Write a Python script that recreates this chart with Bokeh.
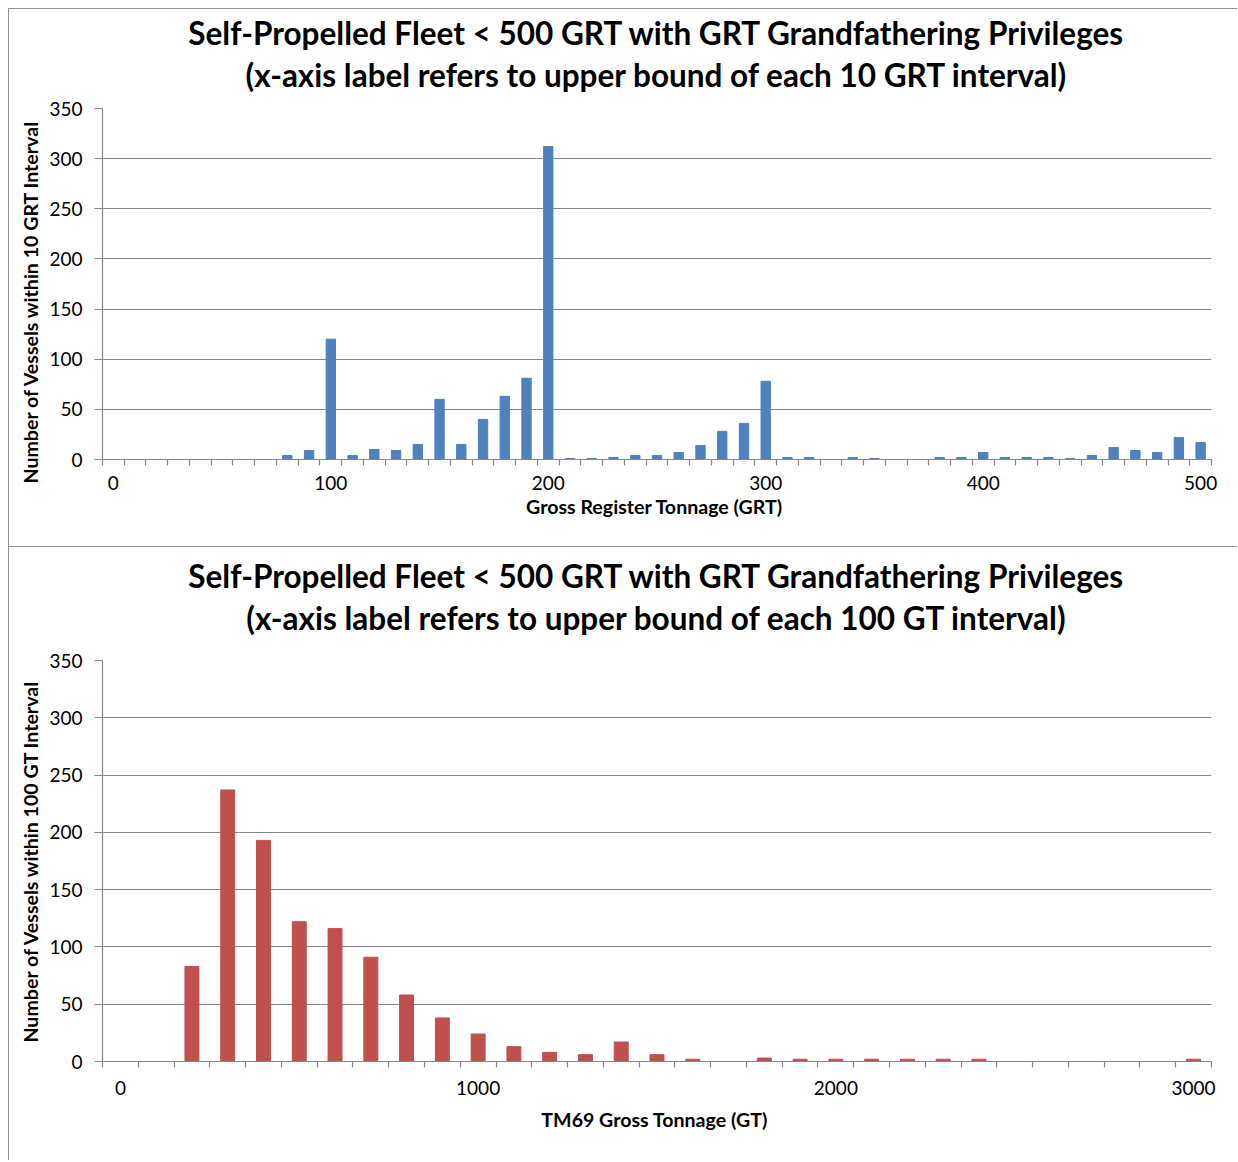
from bokeh.plotting import figure
from bokeh.models import Title, FixedTicker
from bokeh.layouts import column
from bokeh.embed import file_html
from bokeh.resources import INLINE

# ---------------- data ----------------
grt_bins = [0, 10, 20, 30, 40, 50, 60, 70, 80, 90,
            100, 110, 120, 130, 140, 150, 160, 170, 180, 190,
            200, 210, 220, 230, 240, 250, 260, 270, 280, 290,
            300, 310, 320, 330, 340, 350, 360, 370, 380, 390,
            400, 410, 420, 430, 440, 450, 460, 470, 480, 490, 500]
grt_counts = [0, 0, 0, 0, 0, 0, 0, 0, 4, 9,
              120, 4, 10, 9, 15, 60, 15, 40, 63, 81,
              312, 1, 1, 2, 4, 4, 7, 14, 28, 36,
              78, 2, 2, 0, 2, 1, 0, 0, 2, 2,
              7, 2, 2, 2, 1, 4, 12, 9, 7, 22, 17]
grt_tick_labels = [0, 100, 200, 300, 400, 500]

gt_bins = [0, 100, 200, 300, 400, 500, 600, 700, 800, 900,
           1000, 1100, 1200, 1300, 1400, 1500, 1600, 1700, 1800, 1900,
           2000, 2100, 2200, 2300, 2400, 2500, 2600, 2700, 2800, 2900, 3000]
gt_counts = [0, 0, 83, 237, 193, 122, 116, 91, 58, 38,
             24, 13, 8, 6, 17, 6, 2, 0, 3, 2,
             2, 2, 2, 2, 2, 0, 0, 0, 0, 0, 2]
gt_tick_labels = [0, 1000, 2000, 3000]

y_ticks = [0, 50, 100, 150, 200, 250, 300, 350]

FONT = "Lato"
GRAY = "#868686"
BORDER = "#8e8e8e"
TITLE_SIZE = "31.5px"
TICK_SIZE = "19px"
LABEL_SIZE = "19.6px"


def make_chart(bins, counts, step, bar_frac, color, title1, title2, xlabel, ylabel,
               label_ticks, height, b_left, b_right, b_top, b_bottom,
               tick_standoff, xlabel_standoff, t2_standoff, t1_standoff, ylabel_offset):
    half = step / 2
    p = figure(width=1229, height=height,
               x_range=(bins[0] - half, bins[-1] + half), y_range=(0, 350),
               output_backend="svg", toolbar_location=None,
               min_border_left=b_left, min_border_right=b_right,
               min_border_top=b_top, min_border_bottom=b_bottom)
    p.vbar(x=bins, top=counts, width=step * bar_frac, fill_color=color, line_color=color)

    # titles (later added = further from plot)
    p.add_layout(Title(text=title2, align="center", text_font=FONT, text_font_size=TITLE_SIZE,
                       text_font_style="bold", text_color="black",
                       standoff=t2_standoff), "above")
    p.add_layout(Title(text=title1, align="center", text_font=FONT, text_font_size=TITLE_SIZE,
                       text_font_style="bold", text_color="black",
                       standoff=t1_standoff), "above")

    p.outline_line_color = None
    p.background_fill_color = "white"
    p.border_fill_color = "white"
    p.xgrid.visible = False
    p.ygrid.grid_line_color = GRAY
    p.ygrid.grid_line_width = 1.2

    minor = [b - half for b in bins] + [bins[-1] + half]
    xa = p.xaxis[0]
    xa.ticker = FixedTicker(ticks=label_ticks, minor_ticks=minor)
    xa.axis_line_color = GRAY
    xa.axis_line_width = 1.2
    xa.major_tick_out = 0
    xa.major_tick_in = 0
    xa.minor_tick_out = 6
    xa.minor_tick_in = 0
    xa.minor_tick_line_color = GRAY
    xa.minor_tick_line_width = 1.2
    xa.major_label_text_font = FONT
    xa.major_label_text_font_size = TICK_SIZE
    xa.major_label_text_color = "black"
    xa.major_label_standoff = tick_standoff
    xa.axis_label = xlabel
    xa.axis_label_text_font = FONT
    xa.axis_label_text_font_size = LABEL_SIZE
    xa.axis_label_text_font_style = "bold"
    xa.axis_label_text_color = "black"
    xa.axis_label_standoff = xlabel_standoff

    ya = p.yaxis[0]
    ya.ticker = FixedTicker(ticks=y_ticks)
    ya.axis_line_color = GRAY
    ya.axis_line_width = 1.2
    ya.major_tick_out = 8
    ya.major_tick_in = 0
    ya.major_tick_line_color = GRAY
    ya.major_tick_line_width = 1.2
    ya.minor_tick_out = 0
    ya.minor_tick_in = 0
    ya.major_label_text_font = FONT
    ya.major_label_text_font_size = TICK_SIZE
    ya.major_label_text_color = "black"
    ya.major_label_standoff = 12
    if ylabel_offset is None:
        ya.axis_label = ylabel
        ya.axis_label_text_font = FONT
        ya.axis_label_text_font_size = LABEL_SIZE
        ya.axis_label_text_font_style = "bold"
        ya.axis_label_text_color = "black"
        ya.axis_label_standoff = 4
    else:
        p.add_layout(Title(text=ylabel, align="left", offset=ylabel_offset, text_font=FONT,
                           text_font_size=LABEL_SIZE, text_font_style="bold",
                           text_color="black", standoff=10), "left")
    return p


p1 = make_chart(grt_bins, grt_counts, 10, 0.43, "#4F81BD",
                "Self-Propelled Fleet < 500 GRT with GRT Grandfathering Privileges",
                "(x-axis label refers to upper bound of each 10 GRT interval)",
                "Gross Register Tonnage  (GRT)",
                "Number of Vessels within 10 GRT Interval",
                grt_tick_labels, 538, 91, 27, 99, 88, 10, 2, 30, -27, -24)
p1.styles = {"border-top": "1px solid " + BORDER, "border-left": "1px solid " + BORDER}

p2 = make_chart(gt_bins, gt_counts, 100, 0.39, "#C0504D",
                "Self-Propelled Fleet < 500 GRT with GRT Grandfathering Privileges",
                "(x-axis label refers to upper bound of each 100 GT interval)",
                "TM69 Gross Tonnage  (GT)",
                "Number of Vessels within 100 GT Interval",
                gt_tick_labels, 614, 93, 24, 113, 100, 13, 10, 48, -45, None)
p2.styles = {"border-top": "1px solid " + BORDER, "border-left": "1px solid " + BORDER}

layout = column(p1, p2, spacing=0, margin=(8, 0, 0, 8))

with open("out.html", "w") as f:
    f.write(file_html(layout, INLINE))
